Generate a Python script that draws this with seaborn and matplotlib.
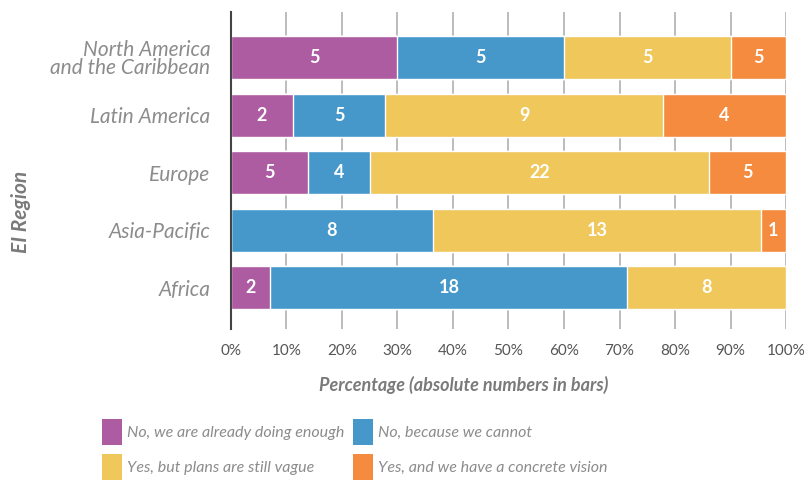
import numpy as np
import pandas as pd
import matplotlib.pyplot as plt
import seaborn as sns
from matplotlib.patches import Patch

# Data
regions = ["North America\nand the Caribbean", "Latin America", "Europe", "Asia-Pacific", "Africa"]
answers = ["No, we are already doing enough", "No, because we cannot",
           "Yes, but plans are still vague", "Yes, and we have a concrete vision"]
colors = ["#AD5CA2", "#4698CB", "#F0C75A", "#F58B3F"]

# bar widths (percent)
pct_enough = [30.0, 11.1, 13.9, 0.0, 7.1]
pct_cannot = [30.0, 16.7, 11.1, 36.4, 64.3]
pct_vague = [30.0, 50.0, 61.1, 59.1, 28.6]
pct_concrete = [10.0, 22.2, 13.9, 4.5, 0.0]

# absolute numbers printed in the bars
n_enough = [5, 2, 5, 0, 2]
n_cannot = [5, 5, 4, 8, 18]
n_vague = [5, 9, 22, 13, 8]
n_concrete = [5, 4, 5, 1, 0]

pct = pd.DataFrame({a: v for a, v in zip(answers, [pct_enough, pct_cannot, pct_vague, pct_concrete])},
                   index=regions)
counts = pd.DataFrame({a: v for a, v in zip(answers, [n_enough, n_cannot, n_vague, n_concrete])},
                      index=regions)
cum = pct.cumsum(axis=1)

sns.set_style("white")
plt.rcParams["font.family"] = ["Lato", "DejaVu Sans"]

fig = plt.figure(figsize=(8.09, 4.84), dpi=100)
ax = fig.add_axes([0.2855, 0.320, 0.6861, 0.655])

ax.xaxis.grid(True, color="#b0b0b0", linewidth=1.2, zorder=0)
ax.set_axisbelow(True)

# stacked bars: draw cumulative totals from the last segment back to the first
for ans, col in reversed(list(zip(answers, colors))):
    sns.barplot(x=cum[ans].values, y=regions, orient="h", color=col,
                width=0.75, saturation=1, ax=ax, zorder=2)

# numbers in the bars
for i, reg in enumerate(regions):
    left = 0
    for ans in answers:
        w = pct.loc[reg, ans]
        n = counts.loc[reg, ans]
        if w > 0 and n > 0:
            ax.text(left + w / 2, i, str(n), ha="center", va="center",
                    color="white", fontsize=13, fontweight="bold", zorder=3)
        left += w

ax.set_xlim(0, 100)
ax.set_ylim(4.72, -0.79)
ax.set_xticks(np.arange(0, 101, 10))
ax.set_xticklabels([f"{v}%" for v in range(0, 101, 10)], color="#555555", fontsize=11)
ax.tick_params(axis="x", length=0, pad=11)
ax.tick_params(axis="y", length=9, width=1.5, color="#444444", pad=6)
for lab in ax.get_yticklabels():
    lab.set_fontstyle("italic")
    lab.set_color("#8c8c8c")
    lab.set_fontsize(15)
    lab.set_linespacing(0.9)

for s in ["top", "right", "bottom"]:
    ax.spines[s].set_visible(False)
ax.spines["left"].set_color("#444444")
ax.spines["left"].set_linewidth(1.5)

ax.set_xlabel("Percentage (absolute numbers in bars)", fontsize=13, fontweight="bold",
              fontstyle="italic", color="#7a7a7a")
ax.xaxis.set_label_coords(0.42, -0.148)
ax.set_ylabel("EI Region", fontsize=15, fontweight="bold", fontstyle="italic",
              color="#7a7a7a")
ax.yaxis.set_label_coords(-0.36, 0.37)

handles = [Patch(facecolor=c, edgecolor="none") for c in colors]
order = [0, 2, 1, 3]
leg = fig.legend([handles[k] for k in order], [answers[k] for k in order],
                 ncol=2, loc="lower left", bbox_to_anchor=(0.116, -0.008), frameon=False,
                 borderpad=0, handlelength=1.25, handleheight=2.1, handletextpad=0.35,
                 columnspacing=0.5, labelspacing=0.6,
                 prop={"size": 11.5, "style": "italic"})
for t in leg.get_texts():
    t.set_color("#8c8c8c")

fig.savefig("out.png", dpi=100)
